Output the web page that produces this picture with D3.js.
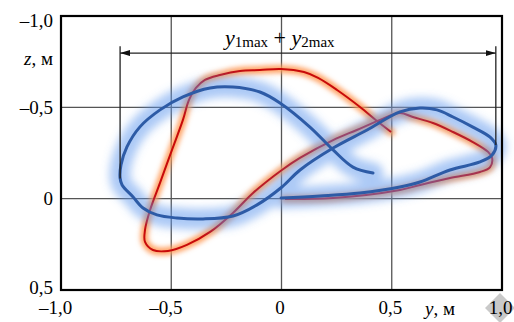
<!DOCTYPE html>
<html>
<head>
<meta charset="utf-8">
<script src="https://cdn.jsdelivr.net/npm/d3@7"></script>
<style>
  body { margin: 0; background: #fff; }
  text { font-family: "Liberation Serif", "DejaVu Serif", serif; }
</style>
</head>
<body>
<div id="chart"></div>
<script>

// tick values and labels
var yTicks = [-1, -0.5, 0, 0.5, 1];
var yTickLabels = ["–1,0", "–0,5", "0", "0,5", "1,0"];
var zTicks = [-1, -0.5, 0, 0.5];
var zTickLabels = ["–1,0", "–0,5", "0", "0,5"];
var yGrid = [-0.5, 0, 0.5];
var zGrid = [-0.5, 0];

// red trajectory (y, z in metres)
var redY = [0.497, 0.433, 0.356, 0.252, 0.166, 0.102, -0.002, -0.098, -0.188, -0.279, -0.347, -0.388, -0.420,
  -0.447, -0.497, -0.551, -0.596, -0.619, -0.619, -0.583, -0.515, -0.429, -0.324, -0.220, -0.129, 0.002, 0.084,
  0.234, 0.342, 0.447, 0.537, 0.596, 0.687, 0.778, 0.868, 0.937, 0.955, 0.946, 0.900, 0.764, 0.628, 0.537, 0.234, 0.016];
var redZ = [-0.365, -0.425, -0.502, -0.595, -0.661, -0.693, -0.710, -0.704, -0.699, -0.677, -0.650, -0.606, -0.540,
  -0.431, -0.266, -0.086, 0.062, 0.171, 0.237, 0.281, 0.286, 0.253, 0.182, 0.078, -0.031, -0.157, -0.223,
  -0.321, -0.376, -0.431, -0.469, -0.447, -0.414, -0.365, -0.310, -0.256, -0.223, -0.173, -0.146, -0.113, -0.075, -0.048, -0.004, 0.002];

// blue trajectory
var blueY = [-0.002, 0.175, 0.356, 0.537, 0.628, 0.764, 0.900, 0.955, 0.972, 0.946, 0.868, 0.778, 0.705, 0.628,
  0.537, 0.388, 0.234, 0.084, 0.002, -0.111, -0.220, -0.356, -0.474, -0.565, -0.628, -0.673, -0.723, -0.732,
  -0.728, -0.701, -0.642, -0.551, -0.447, -0.324, -0.220, -0.098, -0.007, 0.129, 0.234, 0.324, 0.415];
var blueZ = [-0.004, -0.015, -0.031, -0.064, -0.091, -0.157, -0.201, -0.239, -0.294, -0.337, -0.392, -0.447, -0.486, -0.496,
  -0.475, -0.376, -0.277, -0.157, -0.064, 0.034, 0.095, 0.111, 0.106, 0.089, 0.051, -0.009, -0.075, -0.113,
  -0.184, -0.283, -0.393, -0.486, -0.557, -0.606, -0.611, -0.584, -0.524, -0.392, -0.267, -0.173, -0.140];

var margin = {top: 16, right: 12, bottom: 32, left: 61},
  width = 514 - margin.left - margin.right,
  height = 322 - margin.top - margin.bottom;

var root = d3.select("#chart")
  .append("svg")
    .attr("width", 514)
    .attr("height", 322);

var defs = root.append("defs");
defs.append("filter").attr("id", "glowB")
    .attr("x", "-20%").attr("y", "-30%").attr("width", "140%").attr("height", "160%")
  .append("feGaussianBlur").attr("stdDeviation", 4.5);
defs.append("filter").attr("id", "glowR")
    .attr("x", "-20%").attr("y", "-30%").attr("width", "140%").attr("height", "160%")
  .append("feGaussianBlur").attr("stdDeviation", 2.5);

// grey marker behind the last label
root.append("path")
  .attr("d", "M485,308 L500,293 L515,308 L500,323 Z")
  .style("fill", "#c9c9c9");

var svg = root.append("g")
  .attr("transform", "translate(" + margin.left + "," + margin.top + ")");

var x = d3.scaleLinear().domain([-1, 1]).range([0, width]);
var z = d3.scaleLinear().domain([-1, 0.5]).range([0, height]);

// grid
svg.selectAll(".vg").data(yGrid).enter().append("line")
  .attr("x1", d => x(d)).attr("x2", d => x(d))
  .attr("y1", 0).attr("y2", height)
  .style("stroke", "#555").style("stroke-width", 1.3);
svg.selectAll(".hg").data(zGrid).enter().append("line")
  .attr("x1", 0).attr("x2", width)
  .attr("y1", d => z(d)).attr("y2", d => z(d))
  .style("stroke", "#555").style("stroke-width", 1.3);

// axes
var xAxis = svg.append("g")
  .attr("transform", "translate(0," + height + ")")
  .call(d3.axisBottom(x).tickValues(yTicks).tickSize(0).tickPadding(11)
    .tickFormat((d, i) => yTickLabels[i]));
xAxis.select(".domain").remove();
xAxis.selectAll("text")
  .style("font-size", "19px").style("fill", "#000")
  .attr("dx", d => d < 0 ? -6 : -2);

var zAxis = svg.append("g")
  .call(d3.axisLeft(z).tickValues(zTicks).tickSize(0).tickPadding(8)
    .tickFormat((d, i) => zTickLabels[i]));
zAxis.select(".domain").remove();
zAxis.selectAll("text")
  .style("font-size", "19px").style("fill", "#000")
  .attr("y", d => d === -1 ? 4 : (d === 0.5 ? -3 : 0));

// axis names
var zName = svg.append("text")
  .attr("x", -8).attr("y", 65 - margin.top)
  .attr("text-anchor", "end")
  .style("font-size", "19px");
zName.append("tspan").style("font-style", "italic").text("z");
zName.append("tspan").text(", м");

var yName = svg.append("text")
  .attr("x", 425 - margin.left).attr("y", 315 - margin.top)
  .style("font-size", "19px");
yName.append("tspan").style("font-style", "italic").text("y");
yName.append("tspan").text(", м");

// trajectories
var line = d3.line()
  .x(d => x(d[0]))
  .y(d => z(d[1]))
  .curve(d3.curveCatmullRom.alpha(0.5));

var red = d3.zip(redY, redZ);
var blue = d3.zip(blueY, blueZ);

svg.append("path").datum(red).attr("d", line)
  .attr("filter", "url(#glowR)")
  .style("fill", "none").style("stroke", "#ff9a55").style("stroke-width", 8)
  .style("stroke-opacity", 0.9)
  .style("stroke-linejoin", "round").style("stroke-linecap", "round");
svg.append("path").datum(red).attr("d", line)
  .style("fill", "none").style("stroke", "#c80a0a").style("stroke-width", 2);

svg.append("path").datum(blue).attr("d", line)
  .attr("filter", "url(#glowB)")
  .style("fill", "none").style("stroke", "#5a94ee").style("stroke-width", 21)
  .style("stroke-opacity", 0.5)
  .style("stroke-linejoin", "round").style("stroke-linecap", "round");
svg.append("path").datum(blue).attr("d", line)
  .style("fill", "none").style("stroke", "#2d5ba6").style("stroke-width", 3)
  .style("stroke-linejoin", "round").style("stroke-linecap", "round");

// dimension line y1max + y2max
var ext = d3.extent(blueY);
var dimZ = -0.797;
defs.append("marker").attr("id", "arr")
    .attr("viewBox", "0 0 10 6").attr("refX", 10).attr("refY", 3)
    .attr("markerWidth", 10).attr("markerHeight", 6)
    .attr("markerUnits", "userSpaceOnUse").attr("orient", "auto-start-reverse")
  .append("path").attr("d", "M0,0 L10,3 L0,6 Z").style("fill", "#111");

svg.append("line")
  .attr("x1", x(ext[0])).attr("x2", x(ext[0]))
  .attr("y1", z(-0.835)).attr("y2", z(-0.11))
  .style("stroke", "#222").style("stroke-width", 1.3);
svg.append("line")
  .attr("x1", x(ext[1])).attr("x2", x(ext[1]))
  .attr("y1", z(-0.835)).attr("y2", z(-0.294))
  .style("stroke", "#222").style("stroke-width", 1.3);
svg.append("line")
  .attr("x1", x(ext[0])).attr("x2", x(ext[1]))
  .attr("y1", z(dimZ)).attr("y2", z(dimZ))
  .attr("marker-start", "url(#arr)").attr("marker-end", "url(#arr)")
  .style("stroke", "#222").style("stroke-width", 1.3);

var lbl = svg.append("text")
  .attr("x", 225 - margin.left).attr("y", 45 - margin.top)
  .style("font-size", "22px");
lbl.append("tspan").style("font-style", "italic").text("y");
lbl.append("tspan").style("font-size", "15px").attr("dy", 2).text("1max");
lbl.append("tspan").attr("dy", -2).text(" + ");
lbl.append("tspan").style("font-style", "italic").text("y");
lbl.append("tspan").style("font-size", "15px").attr("dy", 2).text("2max");

// frame
svg.append("rect")
  .attr("width", width).attr("height", height)
  .style("fill", "none").style("stroke", "#000").style("stroke-width", 2.2);

</script>
</body>
</html>
